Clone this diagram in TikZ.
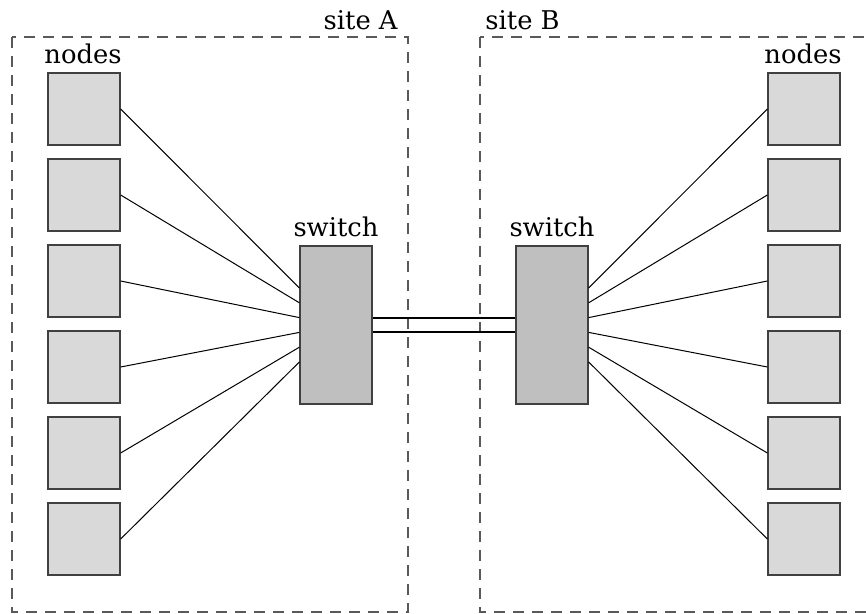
\documentclass[tikz,border=0pt]{standalone}
\usepackage{fontspec}
\setmainfont{DejaVu Serif}
\usetikzlibrary{calc}

\definecolor{nodegray}{gray}{0.85}
\definecolor{switchgray}{gray}{0.75}
\definecolor{edgegray}{gray}{0.25}
\definecolor{sitegray}{gray}{0.35}

\tikzset{
    hostbox/.style={draw=edgegray,fill=nodegray,line width=0.65pt,minimum size=36pt,inner sep=0pt},
    switchbox/.style={draw=edgegray,fill=switchgray,line width=0.65pt,minimum width=36pt,minimum height=79pt,inner sep=0pt},
    sitebox/.style={draw=sitegray,line width=0.75pt,dash pattern=on 5.5pt off 4pt},
    wire/.style={black,line width=0.5pt},
    label/.style={inner sep=0pt,font=\fontsize{12.9}{15}\selectfont}
}

\begin{document}
\begin{tikzpicture}[x=0.5pt,y=-0.5pt]
            \useasboundingbox (0,0) rectangle (866,614);
            \draw[sitebox] (12,37) rectangle (408,612);
            \draw[sitebox] (480,37) rectangle (876,612);
            \node[label,anchor=base east] (siteA) at (398,30) {site A};
            \node[label,anchor=base west] (siteB) at (485,30) {site B};
            \node[switchbox] (swA) at (336,325) {};
            \node[switchbox] (swB) at (552,325) {};
            \node[label,anchor=base] at (336,237) {switch};
            \node[label,anchor=base] at (552,237) {switch};
            \node[label,anchor=base] at (83,64) {nodes};
            \node[label,anchor=base] at (803,64) {nodes};
            \foreach \i in {1,...,6} {
                \node[hostbox] (nA\i) at (84,{109+86*(\i-1)}) {};
                \node[hostbox] (nB\i) at (804,{109+86*(\i-1)}) {};
                \draw[wire] (nA\i.east) -- ($(swA.west)+(0,{(\i-3.5)*14.8})$);
                \draw[wire] (nB\i.west) -- ($(swB.east)+(0,{(\i-3.5)*14.8})$);
            }
            \draw[wire,line width=0.6pt] ($(swA.east)+(0,-7)$) -- ($(swB.west)+(0,-7)$);
            \draw[wire,line width=0.6pt] ($(swA.east)+(0,7)$) -- ($(swB.west)+(0,7)$);
        \end{tikzpicture}
\end{document}
